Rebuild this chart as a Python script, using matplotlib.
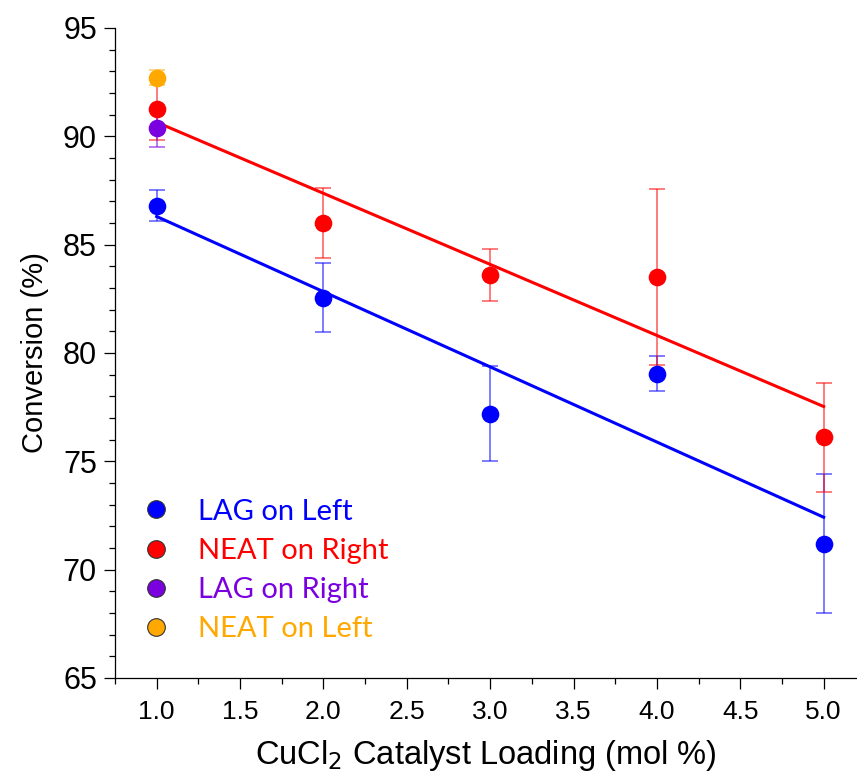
import matplotlib
matplotlib.use("Agg")
import matplotlib.pyplot as plt
import numpy as np
from matplotlib.lines import Line2D
from matplotlib.ticker import MultipleLocator, FormatStrFormatter

# catalyst loading (mol %)
loading = [1.0, 2.0, 3.0, 4.0, 5.0]

# LAG on Left
lag_left = [86.8, 82.55, 77.2, 79.05, 71.2]
lag_left_err = [0.72, 1.6, 2.2, 0.8, 3.2]

# NEAT on Right
neat_right = [91.25, 86.0, 83.6, 83.5, 76.1]
neat_right_err = [1.4, 1.6, 1.2, 4.05, 2.5]

# single points at 1 mol %
lag_right_x = [1.0]
lag_right = [90.4]
lag_right_err = [0.9]
neat_left_x = [1.0]
neat_left = [92.7]
neat_left_err = [0.35]

BLUE = "#0000ff"
RED = "#ff0000"
PURPLE = "#7a00e0"
ORANGE = "#ffa800"

font = ["Liberation Sans", "DejaVu Sans"]

fig = plt.figure(figsize=(8.57, 7.74), dpi=100)
ax = fig.add_axes([115 / 857, 1 - 678 / 774, 1 - 115 / 857, (678 - 28) / 774])

series = [
    (loading, lag_left, lag_left_err, BLUE),
    (loading, neat_right, neat_right_err, RED),
    (lag_right_x, lag_right, lag_right_err, PURPLE),
    (neat_left_x, neat_left, neat_left_err, ORANGE),
]
for i, (xs, ys, es, col) in enumerate(series):
    ax.errorbar(xs, ys, yerr=es, fmt="none", ecolor=col, alpha=0.65,
                elinewidth=1.1, capsize=5.5, capthick=1.1, zorder=1 + i * 0.1)
    ax.plot(xs, ys, "o", color=col, ms=12.7, mec="none", zorder=4 + i * 0.1)

# linear fits
xfit = np.array([loading[0], loading[-1]])
for ys, col in [(lag_left, BLUE), (neat_right, RED)]:
    k, b = np.polyfit(loading, ys, 1)
    ax.plot(xfit, k * xfit + b, "-", color=col, lw=2.2, zorder=3)

ax.set_xlim(0.75, 5.2)
ax.set_ylim(65, 95)
ax.xaxis.set_major_locator(MultipleLocator(0.5))
ax.xaxis.set_minor_locator(MultipleLocator(0.25))
ax.xaxis.set_major_formatter(FormatStrFormatter("%.1f"))
ax.yaxis.set_major_locator(MultipleLocator(5))
ax.yaxis.set_minor_locator(MultipleLocator(1))
ax.tick_params(which="major", direction="out", length=8, width=0.9)
ax.tick_params(which="minor", direction="out", length=4.5, width=0.9)
for s in ["top", "right"]:
    ax.spines[s].set_visible(False)
for s in ["left", "bottom"]:
    ax.spines[s].set_linewidth(0.9)

for lab in ax.get_xticklabels():
    lab.set_family(font)
    lab.set_fontsize(19)
for lab in ax.get_yticklabels():
    lab.set_family(font)
    lab.set_fontsize(22)
ax.tick_params(axis="x", pad=8)
ax.tick_params(axis="y", pad=5)

ax.set_xlabel("CuCl$_2$ Catalyst Loading (mol %)", family=font, fontsize=23.5, labelpad=10)
ax.set_ylabel("Conversion (%)", family=font, fontsize=21, labelpad=10)

labels = ["LAG on Left", "NEAT on Right", "LAG on Right", "NEAT on Left"]
colors = [BLUE, RED, PURPLE, ORANGE]
handles = [Line2D([], [], ls="none", marker="o", ms=12.7, mfc=c, mec="#333333", mew=0.8)
           for c in colors]
leg = ax.legend(handles, labels, loc="lower left", bbox_to_anchor=(0.0, 0.015),
                frameon=False, handlelength=1.0, handletextpad=0.93, labelspacing=0.45,
                prop={"family": "Lato", "size": 21})
for txt, c in zip(leg.get_texts(), colors):
    txt.set_color(c)

fig.savefig("out.png", dpi=100)
